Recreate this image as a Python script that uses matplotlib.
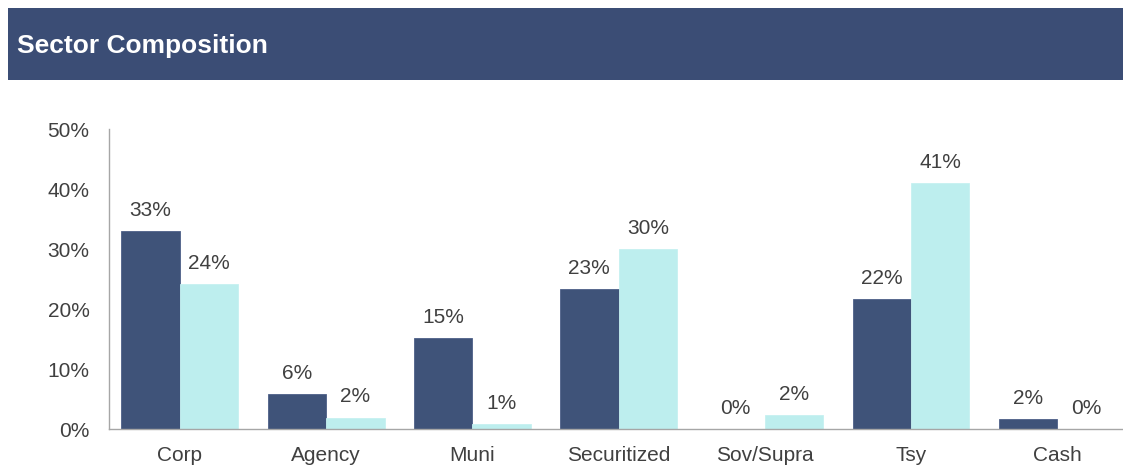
import matplotlib
matplotlib.use("Agg")
import matplotlib.pyplot as plt
from matplotlib import font_manager as fm
import numpy as np
from matplotlib.patches import Rectangle

categories = ["Corp", "Agency", "Muni", "Securitized", "Sov/Supra", "Tsy", "Cash"]
series_a = [33.0, 5.8, 15.1, 23.3, 0.0, 21.7, 1.6]
series_b = [24.2, 1.9, 0.8, 30.0, 2.3, 41.0, 0.0]
yticks = [0, 10, 20, 30, 40, 50]

dark = "#3f5379"
light = "#bdeeee"
banner = "#3b4d75"
txt = "#404040"

plt.rcParams['font.family'] = ['Liberation Sans', 'DejaVu Sans']

# locate the regular-width Liberation Sans Bold file for the title
bold_path = None
for f in fm.findSystemFonts():
    if f.endswith("LiberationSans-Bold.ttf"):
        bold_path = f
        break
if bold_path:
    title_fp = fm.FontProperties(fname=bold_path, size=19)
else:
    title_fp = fm.FontProperties(family='DejaVu Sans', weight='bold', size=17)

W, H = 1123, 465
fig = plt.figure(figsize=(W/100, H/100), dpi=100)

# header banner
fig.patches.append(Rectangle((8/W, 1 - 80/H), 1 - 8/W, 72/H, transform=fig.transFigure,
                             facecolor=banner, edgecolor='none', zorder=0))
fig.text(17/W, 1 - 46/H, "Sector Composition", color="white",
         fontproperties=title_fp, va='center', ha='left')

ax = fig.add_axes([109/W, 36/H, 1 - 109/W, 300/H])
x = np.arange(len(categories))
bw = 0.4
ax.bar(x - bw/2, series_a, width=bw, color=dark, edgecolor="#4d6088", linewidth=0.6, zorder=2)
ax.bar(x + bw/2, series_b, width=bw, color=light, edgecolor="#c6f1f1", linewidth=0.6, zorder=2)

for xi, v in zip(x - bw/2, series_a):
    ax.annotate(f"{int(round(v))}%", (xi, v), xytext=(0, 11), textcoords='offset points',
                ha='center', va='baseline', fontsize=15, color=txt)
for xi, v in zip(x + bw/2, series_b):
    ax.annotate(f"{int(round(v))}%", (xi, v), xytext=(0, 11), textcoords='offset points',
                ha='center', va='baseline', fontsize=15, color=txt)

ax.set_xlim(-0.485, 6.45)
ax.set_ylim(0, 50)
ax.set_yticks(yticks)
ax.set_yticklabels([f"{t}%" for t in yticks])
ax.set_xticks(x)
ax.set_xticklabels(categories)
ax.tick_params(axis='both', length=0, labelsize=15, labelcolor=txt)
ax.tick_params(axis='y', pad=14)
ax.tick_params(axis='x', pad=12)
for s in ['top', 'right']:
    ax.spines[s].set_visible(False)
for s in ['left', 'bottom']:
    ax.spines[s].set_color("#a6a6a6")
    ax.spines[s].set_linewidth(1.0)
ax.set_facecolor('none')

fig.savefig("out.png", dpi=100)
